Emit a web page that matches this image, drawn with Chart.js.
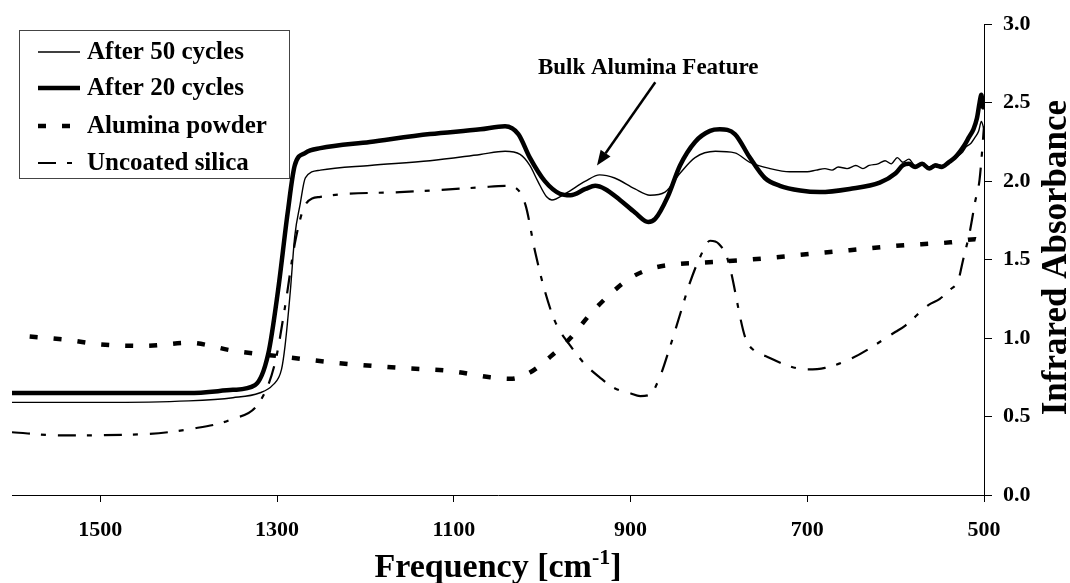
<!DOCTYPE html>
<html>
<head>
<meta charset="utf-8">
<script src="https://cdn.jsdelivr.net/npm/chart.js@4.4.1/dist/chart.umd.min.js"></script>
<style>
  html, body { margin: 0; padding: 0; background: #fff; }
  #wrap { width: 1070px; height: 583px; }
</style>
</head>
<body>
<div id="wrap"><canvas id="c" width="1070" height="583"></canvas></div>
<script>
// ---- Data (frequency in cm^-1, absorbance) ----
const xTickValues = [1500, 1300, 1100, 900, 700, 500];
const seriesLabels = ['After 50 cycles', 'After 20 cycles', 'Alumina powder', 'Uncoated silica'];

const freq50 = [1600,1500,1400,1350,1320,1305,1295,1291,1285,1280,1274,1268,1251,1195,1127,1070,1042,1025,1014,1005,995,989,974,951,935,918,895,878,861,844,827,804,782,765,742,720,700,690,680,672,665,655,645,637,630,620,612,605,598,592,585,578,570,562,555,548,540,532,525,520,515,510,506,503,500];
const abs50  = [0.59,0.59,0.60,0.62,0.65,0.70,0.80,0.95,1.30,1.65,1.85,2.02,2.07,2.10,2.13,2.17,2.19,2.17,2.10,2.00,1.90,1.88,1.92,2.00,2.04,2.02,1.95,1.91,1.93,2.05,2.15,2.19,2.18,2.12,2.08,2.06,2.06,2.07,2.08,2.07,2.09,2.08,2.10,2.08,2.10,2.11,2.13,2.11,2.15,2.12,2.14,2.10,2.11,2.09,2.11,2.10,2.12,2.15,2.18,2.22,2.24,2.28,2.32,2.38,2.33];

const freq20 = [1600,1500,1400,1350,1325,1310,1299,1288,1280,1268,1251,1195,1127,1070,1042,1027,1014,997,980,968,951,940,929,912,895,880,872,858,844,827,810,799,782,765,748,731,708,686,652,618,600,592,585,578,570,562,555,548,540,533,527,522,517,512,508,505,503,501,500];
const abs20  = [0.65,0.65,0.65,0.67,0.70,0.90,1.30,1.80,2.10,2.18,2.21,2.25,2.30,2.33,2.35,2.30,2.15,2.00,1.92,1.91,1.95,1.97,1.95,1.88,1.80,1.74,1.76,1.90,2.10,2.25,2.32,2.33,2.30,2.15,2.02,1.97,1.94,1.93,1.95,1.99,2.05,2.10,2.11,2.09,2.11,2.08,2.10,2.09,2.12,2.15,2.19,2.23,2.28,2.33,2.40,2.50,2.55,2.47,2.52];

const freqAl = [1580,1540,1500,1450,1400,1350,1291,1229,1161,1104,1059,1036,1014,991,968,946,923,901,878,850,821,765,708,652,595,538,510,502];
const absAl  = [1.01,0.99,0.96,0.95,0.97,0.92,0.88,0.84,0.81,0.79,0.75,0.74,0.78,0.88,1.00,1.15,1.28,1.38,1.44,1.47,1.48,1.50,1.53,1.56,1.59,1.61,1.63,1.60];

const freqSi = [1600,1546,1444,1399,1353,1319,1302,1291,1280,1268,1251,1161,1070,1042,1031,1019,1008,997,985,968,951,935,918,901,889,878,867,855,844,833,821,810,800,790,770,760,745,720,700,680,650,600,589,563,550,538,529,524,516,510,505,502,500];
const absSi  = [0.40,0.38,0.39,0.42,0.48,0.60,0.85,1.20,1.60,1.85,1.90,1.93,1.96,1.97,1.96,1.85,1.55,1.30,1.10,0.95,0.83,0.75,0.68,0.65,0.63,0.64,0.75,0.95,1.15,1.35,1.52,1.62,1.60,1.50,1.00,0.92,0.88,0.82,0.80,0.81,0.87,1.04,1.08,1.21,1.25,1.31,1.37,1.49,1.68,1.87,2.01,2.20,2.35];

const toXY = (xs, ys) => xs.map((x, i) => ({ x: x, y: ys[i] }));

const FONT = '"Liberation Serif", "Times New Roman", serif';
Chart.defaults.font.family = FONT;
Chart.defaults.color = '#000';

const styles = [
  { borderWidth: 1.4, borderDash: [] },
  { borderWidth: 4.5, borderDash: [] },
  { borderWidth: 4.5, borderDash: [8, 16] },
  { borderWidth: 2.2, borderDash: [18, 11, 5, 12] }
];
const dataSets = [toXY(freq50, abs50), toXY(freq20, abs20), toXY(freqAl, absAl), toXY(freqSi, absSi)];

const overlay = {
  id: 'overlay',
  afterDraw(chart) {
    const ctx = chart.ctx;
    const xs = chart.scales.x, ys = chart.scales.y;
    const ca = chart.chartArea;
    ctx.save();
    // Legend box
    const bx = 19, by = 30, bw = 270, bh = 148;
    ctx.fillStyle = '#fff';
    ctx.fillRect(bx, by, bw, bh);
    ctx.strokeStyle = '#444';
    ctx.lineWidth = 1;
    ctx.strokeRect(bx + 0.5, by + 0.5, bw, bh);
    const rowY = [52, 88, 126, 163];
    chart.data.datasets.forEach((ds, i) => {
      const y = rowY[i];
      ctx.strokeStyle = '#000';
      ctx.lineWidth = ds.borderWidth;
      ctx.setLineDash(ds.borderDash || []);
      ctx.lineCap = 'butt';
      ctx.beginPath();
      ctx.moveTo(38, y);
      ctx.lineTo(80, y);
      ctx.stroke();
      ctx.setLineDash([]);
      ctx.fillStyle = '#000';
      ctx.font = 'bold 25px ' + FONT;
      ctx.textAlign = 'left';
      ctx.textBaseline = 'middle';
      ctx.fillText(ds.label, 87, y + 1);
    });

    // Annotation
    ctx.fillStyle = '#000';
    ctx.font = 'bold 23px ' + FONT;
    ctx.textAlign = 'center';
    ctx.textBaseline = 'middle';
    ctx.fillText('Bulk Alumina Feature', xs.getPixelForValue(880), ys.getPixelForValue(2.72));
    const x1 = xs.getPixelForValue(872), y1 = ys.getPixelForValue(2.63);
    const x2 = xs.getPixelForValue(938), y2 = ys.getPixelForValue(2.10);
    const ang = Math.atan2(y2 - y1, x2 - x1);
    const hl = 15, hw = 6;
    ctx.strokeStyle = '#000';
    ctx.lineWidth = 2.5;
    ctx.beginPath();
    ctx.moveTo(x1, y1);
    ctx.lineTo(x2 - hl * Math.cos(ang), y2 - hl * Math.sin(ang));
    ctx.stroke();
    ctx.beginPath();
    ctx.moveTo(x2, y2);
    ctx.lineTo(x2 - hl * Math.cos(ang) + hw * Math.sin(ang), y2 - hl * Math.sin(ang) - hw * Math.cos(ang));
    ctx.lineTo(x2 - hl * Math.cos(ang) - hw * Math.sin(ang), y2 - hl * Math.sin(ang) + hw * Math.cos(ang));
    ctx.closePath();
    ctx.fill();

    // X axis title with superscript
    const cx = (ca.left + ca.right) / 2;
    const base = 577;
    ctx.textBaseline = 'alphabetic';
    ctx.textAlign = 'left';
    const big = 'bold 34px ' + FONT, small = 'bold 22px ' + FONT;
    ctx.font = big;
    const w1 = ctx.measureText('Frequency [cm').width;
    const w3 = ctx.measureText(']').width;
    ctx.font = small;
    const w2 = ctx.measureText('-1').width;
    let sx = cx - (w1 + w2 + w3) / 2;
    ctx.font = big;
    ctx.fillText('Frequency [cm', sx, base);
    ctx.font = small;
    ctx.fillText('-1', sx + w1, base - 13);
    ctx.font = big;
    ctx.fillText(']', sx + w1 + w2, base);

    // Y axis title (right, reading bottom to top)
    ctx.translate(1066, (ca.top + ca.bottom) / 2 - 2);
    ctx.rotate(-Math.PI / 2);
    ctx.font = 'bold 35px ' + FONT;
    ctx.textAlign = 'center';
    ctx.textBaseline = 'alphabetic';
    ctx.fillText('Infrared Absorbance', 0, 0);
    ctx.restore();
  }
};

new Chart(document.getElementById('c'), {
  type: 'line',
  data: {
    datasets: dataSets.map((d, i) => ({
      label: seriesLabels[i],
      data: d,
      borderColor: '#000',
      backgroundColor: '#000',
      borderWidth: styles[i].borderWidth,
      borderDash: styles[i].borderDash,
      pointRadius: 0,
      fill: false,
      tension: 0,
      cubicInterpolationMode: 'monotone',
      borderJoinStyle: 'round'
    }))
  },
  options: {
    responsive: false,
    animation: false,
    parsing: true,
    layout: { padding: { left: 12, top: 21, right: 0, bottom: 0 } },
    plugins: { legend: { display: false }, tooltip: { enabled: false }, title: { display: false } },
    scales: {
      x: {
        type: 'linear',
        position: 'bottom',
        min: 500, max: 1600,
        reverse: true,
        afterBuildTicks: (s) => { s.ticks = xTickValues.map(v => ({ value: v })); },
        afterFit: (s) => { s.height = 88; },
        ticks: {
          font: { size: 22, weight: 'bold' },
          color: '#000',
          padding: 15,
          maxRotation: 0,
          autoSkip: false,
          callback: (v) => String(v)
        },
        grid: { drawOnChartArea: false, drawTicks: true, tickLength: 7, color: '#000', lineWidth: 1 },
        border: { display: true, color: '#000', width: 1 },
        title: { display: false }
      },
      y: {
        type: 'linear',
        position: 'right',
        min: 0, max: 3,
        afterFit: (s) => { s.width = 86; },
        ticks: {
          stepSize: 0.5,
          font: { size: 22, weight: 'bold' },
          color: '#000',
          padding: 11,
          callback: (v) => Number(v).toFixed(1)
        },
        grid: { drawOnChartArea: false, drawTicks: true, tickLength: 8, color: '#000', lineWidth: 1 },
        border: { display: true, color: '#000', width: 1 },
        title: { display: false }
      }
    }
  },
  plugins: [overlay]
});
</script>
</body>
</html>
